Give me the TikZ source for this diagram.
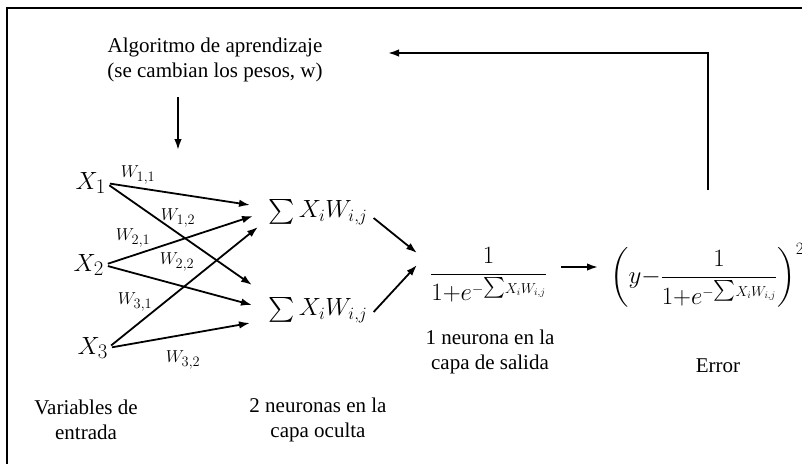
\documentclass[tikz,border=0pt]{standalone}
\usepackage{amsmath}
\usepackage{fontspec}
\setmainfont{Liberation Serif}
\usetikzlibrary{arrows.meta,calc}
\newcommand\SigExp{e^{\mbox{\fontsize{15}{15}\selectfont$-$}\mbox{\fontsize{20}{20}\selectfont$\sum$}\mbox{\fontsize{14.5}{15}\selectfont$X_iW_{i,j}$}}}
\begin{document}
\begin{tikzpicture}[x=1pt,y=-1pt,
  lbl/.style={font=\fontsize{21}{25}\selectfont, align=center, inner sep=0},
  inp/.style={font=\fontsize{30}{30}\selectfont, inner sep=0},
  wt/.style={font=\fontsize{19}{19}\selectfont, inner sep=0},
  sumn/.style={font=\fontsize{24}{24}\selectfont, inner sep=0},
  frm/.style={font=\fontsize{24}{24}\selectfont, inner sep=0},
  arr/.style={line width=1.8pt, -{Latex[length=11pt,width=7.5pt]}},
  framel/.style={line width=2.2pt}]
\useasboundingbox (0,0) rectangle (802,464);
\draw[framel] (7,464) -- (7,8) -- (802,8);

% learning algorithm
\node[lbl] (alg) at (215,60) {Algoritmo de aprendizaje\\(se cambian los pesos, w)};
\coordinate (dtop) at (178,97);
\coordinate (dbot) at (178,150);
\draw[arr] (dtop) -- (dbot);

% inputs
\node[inp, anchor=east] (x1) at (106,183) {$X_1$};
\node[inp, anchor=east] (x2) at (104,265) {$X_2$};
\node[inp, anchor=east] (x3) at (108,348) {$X_3$};

% hidden neurons
\node[sumn] (s1) at (318,212) {$\sum X_iW_{i,j}$};
\node[sumn] (s2) at (318,310) {$\sum X_iW_{i,j}$};

\coordinate (h11) at (250,205);
\coordinate (h21) at (253,216);
\coordinate (h31) at (258,227);
\coordinate (h12) at (252,285);
\coordinate (h22) at (252,305);
\coordinate (h32) at (250,323);

\draw[arr, shorten <=4pt] (x1.east) -- (h11);
\draw[arr, shorten <=4pt] (x1.east) -- (h12);
\draw[arr, shorten <=4pt] (x2.east) -- (h21);
\draw[arr, shorten <=4pt] (x2.east) -- (h22);
\draw[arr, shorten <=4pt] (x3.east) -- (h31);
\draw[arr, shorten <=4pt] (x3.east) -- (h32);

% weights
\node[wt] (w11) at (138,175) {$W_{1,1}$};
\node[wt] (w12) at (178,218) {$W_{1,2}$};
\node[wt] (w21) at (133,238) {$W_{2,1}$};
\node[wt] (w22) at (177,262) {$W_{2,2}$};
\node[wt] (w31) at (135,302) {$W_{3,1}$};
\node[wt] (w32) at (183,360) {$W_{3,2}$};

% output neuron
\node[frm, anchor=west] (out) at (430,275) {$\dfrac{1}{1{+}\SigExp}$};
\coordinate (o1) at (417,253);
\coordinate (o2) at (417,265);
\draw[arr] ($(s1.east)+(6,6)$) -- (o1);
\draw[arr] ($(s2.east)+(6,2)$) -- (o2);

% error
\node[frm, anchor=west] (err) at (610,275) {$\left(y{-}\dfrac{1}{1{+}\SigExp}\right)^{2}$};
\coordinate (e1) at (598,267);
\draw[arr, shorten <=14pt] (out.east |- e1) -- (e1);

% feedback
\coordinate (fb) at (708,190);
\coordinate (fbend) at (388,53);
\draw[arr] (fb) |- (fbend);

% labels
\node[lbl] (lin) at (86,420) {Variables de\\entrada};
\node[lbl] (lhid) at (318,420) {2 neuronas en la\\capa oculta};
\node[lbl] (lout) at (490,352) {1 neurona en la\\capa de salida};
\node[lbl] (lerr) at (718,366) {Error};
\end{tikzpicture}
\end{document}
